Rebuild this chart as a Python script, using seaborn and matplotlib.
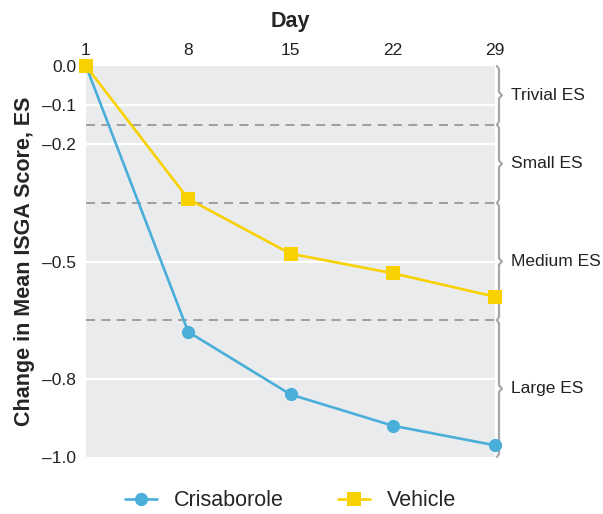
#!/usr/bin/env python3
# -*- coding: utf-8 -*-

import numpy as np
import matplotlib
matplotlib.use("Agg")
import matplotlib.pyplot as plt
import matplotlib.transforms as mtrans
import pandas as pd
import seaborn as sns

days = [1, 8, 15, 22, 29]
crisaborole = [0.0, -0.68, -0.84, -0.92, -0.97]
vehicle = [0.0, -0.34, -0.48, -0.53, -0.59]

y_ticks = [0.0, -0.1, -0.2, -0.5, -0.8, -1.0]
es_bounds = [0.0, -0.15, -0.35, -0.65, -1.0]
es_labels = ["Trivial ES", "Small ES", "Medium ES", "Large ES"]

blue = "#4AAEDA"
yellow = "#F8D100"


def draw_brace(ax, top, bottom, x0):
    # curly brace on the right side, x in axes fraction, y in data
    trans = mtrans.blended_transform_factory(ax.transAxes, ax.transData)
    px = 1.0 / ax.bbox.width
    mid = (top + bottom) / 2
    d = 0.008
    xs = [x0 - 2 * px, x0, x0, x0 + 3 * px, x0, x0, x0 - 2 * px]
    ys = [top, top - d, mid + d, mid, mid - d, bottom + d, bottom]
    ax.plot(xs, ys, color="#A8A8A8", lw=1.6, transform=trans, clip_on=False,
            solid_joinstyle="round")


def plot_chart():
    df = pd.DataFrame({
        "day": days * 2,
        "change": crisaborole + vehicle,
        "group": ["Crisaborole"] * len(days) + ["Vehicle"] * len(days),
    })

    sns.set_theme(style="white")
    plt.rcParams["font.family"] = ["Liberation Sans", "DejaVu Sans"]

    fig = plt.figure(figsize=(6.03, 5.14), dpi=100)
    ax = fig.add_axes([86 / 603, 1 - 457 / 514, 409 / 603, 391 / 514])
    ax.set_facecolor("#EAEBEC")

    for y in y_ticks[1:-1]:
        ax.axhline(y, color="white", lw=1.6, zorder=0.5)
    for y in es_bounds[1:-1]:
        ax.axhline(y, color="#999999", lw=1.3, ls=(0, (5, 3.5)), zorder=0.6)

    sns.lineplot(data=df, x="day", y="change", hue="group", style="group",
                 palette={"Crisaborole": blue, "Vehicle": yellow},
                 markers={"Crisaborole": "o", "Vehicle": "s"},
                 dashes=False, markersize=9.5, markeredgewidth=0,
                 linewidth=1.9, ax=ax, legend=False, zorder=3)
    for line in ax.get_lines():
        line.set_clip_on(False)

    ax.set_xlim(1, 29)
    ax.set_ylim(-1.0, 0.0)
    ax.set_xticks(days)
    ax.set_yticks(y_ticks)
    ax.set_yticklabels([f"{v:.1f}".replace("-", "\u2013") for v in y_ticks])
    ax.xaxis.tick_top()
    ax.xaxis.set_label_position("top")
    ax.tick_params(axis="both", length=0, labelsize=12.5, colors="#222222")
    ax.tick_params(axis="x", pad=6)
    ax.tick_params(axis="y", pad=7)
    ax.set_xlabel("Day", fontsize=15.5, fontweight="bold", labelpad=11)
    ax.set_ylabel("Change in Mean ISGA Score, ES", fontsize=15.5,
                  fontweight="bold", labelpad=5)
    for s in ax.spines.values():
        s.set_visible(False)

    x_brace = (499 - 86) / 409
    for i, lab in enumerate(es_labels):
        top, bottom = es_bounds[i], es_bounds[i + 1]
        draw_brace(ax, top, bottom, x_brace)
        trans = mtrans.blended_transform_factory(ax.transAxes, ax.transData)
        ax.text((511 - 86) / 409, (top + bottom) / 2, lab, transform=trans,
                fontsize=12.5, va="center", ha="left", color="#222222")

    handles = [
        plt.Line2D([], [], color=blue, marker="o", markersize=9.5, lw=1.9,
                   markeredgewidth=0),
        plt.Line2D([], [], color=yellow, marker="s", markersize=9.5, lw=1.9,
                   markeredgewidth=0),
    ]
    fig.legend(handles, ["Crisaborole", "Vehicle"], loc="center",
               bbox_to_anchor=(0.5 * (86 + 495) / 603, 1 - 501 / 514),
               ncol=2, frameon=False, fontsize=15.5, handlelength=1.5,
               handletextpad=0.8, columnspacing=2.5, borderpad=0.1)

    fig.savefig("out.png", dpi=100)


if __name__ == "__main__":
    plot_chart()
